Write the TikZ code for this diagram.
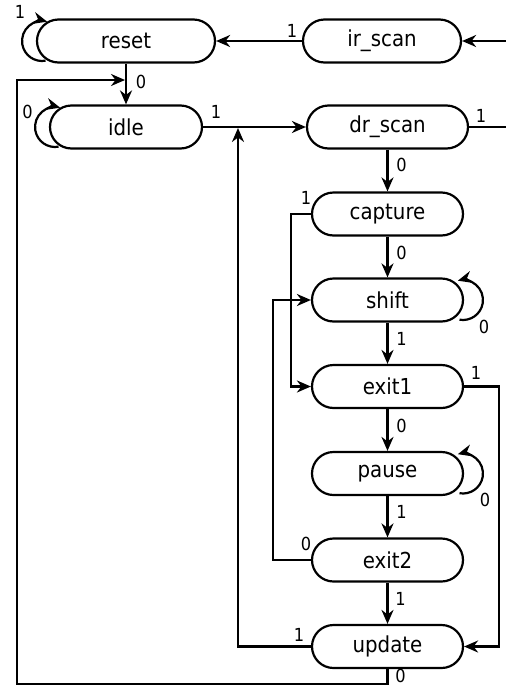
\documentclass[tikz,border=0pt]{standalone}
\usepackage{fontspec}
\setmainfont{DejaVu Sans Condensed}
\usetikzlibrary{arrows.meta}
\tikzset{
  state/.style={draw, line width=2.2pt, rounded corners=21.5pt, minimum height=43pt, inner sep=0pt, font=\fontsize{22}{24}\selectfont},
  arr/.style={line width=2.2pt, -{Stealth[length=14pt,width=12pt]}},
  ln/.style={line width=2.2pt},
  lbl/.style={inner sep=0pt, font=\fontsize{18}{20}\selectfont},
}
\begin{document}
\begin{tikzpicture}[x=1pt,y=1pt]
\useasboundingbox (0,0) rectangle (506,-686);
% states
\node[state, minimum width=178pt] (reset) at (126,-41) {reset};
\node[state, minimum width=158pt] (irscan) at (382,-41) {ir\_scan};
\node[state, minimum width=152pt] (idle) at (126,-127) {idle};
\node[state, minimum width=161pt] (drscan) at (387.5,-127) {dr\_scan};
\node[state, minimum width=151pt] (capture) at (387.5,-214) {capture};
\node[state, minimum width=151pt] (shift) at (387.5,-300) {shift};
\node[state, minimum width=151pt] (exitone) at (387.5,-386.5) {exit1};
\node[state, minimum width=151pt] (pause) at (387.5,-473.5) {pause};
\node[state, minimum width=151pt] (exittwo) at (387.5,-560) {exit2};
\node[state, minimum width=151pt] (update) at (387.5,-646.5) {update};
% free ends and junctions
\coordinate (irin) at (506,-41);
\coordinate (drout) at (506,-127);
\coordinate (jreset) at (125,-80);
\coordinate (jidle) at (238,-128);
% top
\draw[arr] (irin) -- (irscan.east);
\draw[arr] (irscan.west) -- (reset.east);
\node[lbl] at ([shift={(-10,10)}]irscan.west) {1};
\draw[arr] (reset.south) -- (idle.north);
\node[lbl] at ([shift={(15,-18)}]reset.south) {0};
\draw[arr] (idle.east) -- (drscan.west);
\node[lbl] at ([shift={(13,15)}]idle.east) {1};
\draw[ln] (drscan.east) -- (drout);
\node[lbl] at ([shift={(12,11)}]drscan.east) {1};
% self loops
\draw[arr] ([shift={(3.5,-19.7)}]42,-41) arc[start angle=-80, end angle=-285, radius=20];
\node[lbl] at ([shift={(-16,29)}]reset.west) {1};
\draw[arr] ([shift={(3.5,-19.7)}]55,-127) arc[start angle=-80, end angle=-285, radius=20];
\node[lbl] at ([shift={(-21.5,15)}]idle.west) {0};
\draw[arr] ([shift={(-3.5,-19.7)}]463,-300) arc[start angle=-100, end angle=105, radius=20];
\node[lbl] at ([shift={(20,-27)}]shift.east) {0};
\draw[arr] ([shift={(-3.5,-19.7)}]463,-473.5) arc[start angle=-100, end angle=105, radius=20];
\node[lbl] at ([shift={(21,-26.5)}]pause.east) {0};
% main column
\draw[arr] (drscan.south) -- (capture.north);
\node[lbl] at ([shift={(14,-15)}]drscan.south) {0};
\draw[arr] (capture.south) -- (shift.north);
\node[lbl] at ([shift={(14,-16)}]capture.south) {0};
\draw[arr] (shift.south) -- (exitone.north);
\node[lbl] at ([shift={(14,-16)}]shift.south) {1};
\draw[arr] (exitone.south) -- (pause.north);
\node[lbl] at ([shift={(14,-17)}]exitone.south) {0};
\draw[arr] (pause.south) -- (exittwo.north);
\node[lbl] at ([shift={(14,-16)}]pause.south) {1};
\draw[arr] (exittwo.south) -- (update.north);
\node[lbl] at ([shift={(13,-16)}]exittwo.south) {1};
% side paths
\draw[arr] (capture.west) -- ++(-20,0) |- (exitone.west);
\node[lbl] at ([shift={(-5,16)}]capture.west) {1};
\draw[arr] (exittwo.west) -- ++(-38,0) |- (shift.west);
\node[lbl] at ([shift={(-5,16)}]exittwo.west) {0};
\draw[arr] (exitone.east) -- ++(35,0) |- (update.east);
\node[lbl] at ([shift={(12,14)}]exitone.east) {1};
\draw[arr] (update.west) -| (jidle);
\node[lbl] at ([shift={(-12,12)}]update.west) {1};
\draw[arr] (update.south) -- ++(0,-15) -| (17,-80) -- (jreset);
\node[lbl] at ([shift={(13,-6.5)}]update.south) {0};
\end{tikzpicture}
\end{document}
